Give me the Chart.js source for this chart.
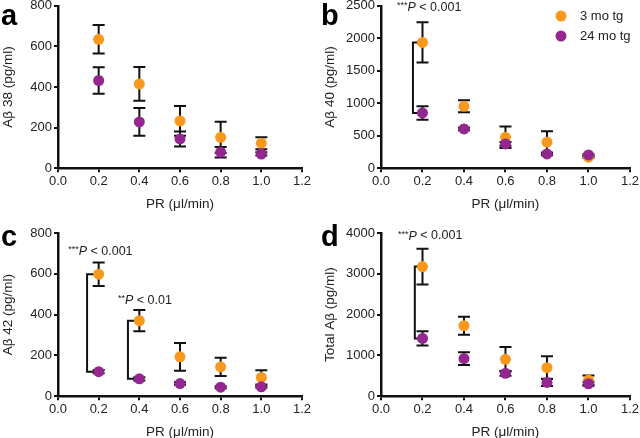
<!DOCTYPE html>
<html>
<head>
<meta charset="utf-8">
<script src="https://cdn.jsdelivr.net/npm/chart.js@4.4.1/dist/chart.umd.min.js"></script>
<style>
  body { margin: 0; background: #fff; }
  #figure { position: relative; width: 640px; height: 438px; overflow: hidden; background: #fff; }
  #figure canvas { position: absolute; }
</style>
</head>
<body>
<div id="figure">
  <canvas id="panelA"></canvas>
  <canvas id="panelB"></canvas>
  <canvas id="panelC"></canvas>
  <canvas id="panelD"></canvas>
</div>
<script>
// Données (moyenne ± SEM)
const flowRates = [0.2, 0.4, 0.6, 0.8, 1.0];
const groupLabels = ['3 mo tg', '24 mo tg'];
const xTickValues = [0.0, 0.2, 0.4, 0.6, 0.8, 1.0, 1.2];

// a - Aβ 38
const ab38Young = [635, 415, 233, 152, 123];
const ab38YoungSem = [70, 83, 73, 77, 30];
const ab38Old = [432, 228, 144, 79, 70];
const ab38OldSem = [65, 68, 37, 26, 8];
const ab38Ticks = [0, 200, 400, 600, 800];

// b - Aβ 40
const ab40Young = [1936, 953, 476, 400, 169];
const ab40YoungSem = [310, 92, 165, 170, 10];
const ab40Old = [850, 604, 374, 220, 205];
const ab40OldSem = [105, 20, 30, 20, 10];
const ab40Ticks = [0, 500, 1000, 1500, 2000, 2500];

// c - Aβ 42
const ab42Young = [598, 370, 193, 144, 92];
const ab42YoungSem = [58, 52, 68, 45, 35];
const ab42Old = [120, 85, 62, 44, 46];
const ab42OldSem = [8, 8, 6, 5, 5];
const ab42Ticks = [0, 200, 400, 600, 800];

// d - Aβ total
const abTotalYoung = [3177, 1728, 905, 700, 395];
const abTotalYoungSem = [440, 222, 300, 280, 115];
const abTotalOld = [1416, 922, 560, 337, 305];
const abTotalOldSem = [175, 155, 60, 90, 50];
const abTotalTicks = [0, 1000, 2000, 3000, 4000];

const ORANGE = '#F8981D';
const PURPLE = '#93278F';
const FONT = '"Liberation Sans", Arial, Helvetica, sans-serif';

Chart.defaults.font.family = FONT;
Chart.defaults.color = '#222';

function toPoints(values) {
    return values.map((v, i) => ({ x: flowRates[i], y: v }));
}

// Plugin : barres d'erreur, crochets, annotations, légende, lettre du panneau
const figureExtras = {
    id: 'figureExtras',
    beforeDatasetsDraw(chart, args, opts) {
        const ctx = chart.ctx;
        const xs = chart.scales.x;
        const ys = chart.scales.y;
        ctx.save();
        ctx.strokeStyle = '#111';
        ctx.lineWidth = 2;
        chart.data.datasets.forEach(ds => {
            ds.data.forEach((pt, i) => {
                const err = ds.sem[i];
                if (!err) return;
                const px = xs.getPixelForValue(pt.x);
                const top = ys.getPixelForValue(pt.y + err);
                const bot = ys.getPixelForValue(Math.max(pt.y - err, 0));
                ctx.beginPath();
                ctx.moveTo(px, top); ctx.lineTo(px, bot);
                ctx.moveTo(px - 6, top); ctx.lineTo(px + 6, top);
                ctx.moveTo(px - 6, bot); ctx.lineTo(px + 6, bot);
                ctx.stroke();
            });
        });
        (opts.brackets || []).forEach(b => {
            const bx = xs.getPixelForValue(b.x);
            const ex = xs.getPixelForValue(b.armTo);
            const y1 = ys.getPixelForValue(b.from);
            const y2 = ys.getPixelForValue(b.to);
            ctx.beginPath();
            ctx.moveTo(ex, y1); ctx.lineTo(bx, y1);
            ctx.lineTo(bx, y2); ctx.lineTo(ex, y2);
            ctx.stroke();
        });
        ctx.restore();
    },
    afterDraw(chart, args, opts) {
        const ctx = chart.ctx;
        const xs = chart.scales.x;
        const ys = chart.scales.y;
        ctx.save();
        // Lettre du panneau
        ctx.fillStyle = '#000';
        ctx.font = 'bold 29px ' + FONT;
        ctx.textBaseline = 'alphabetic';
        ctx.fillText(opts.letter, 1, opts.letterY);

        // Annotations de significativité
        (opts.notes || []).forEach(n => {
            let px = xs.getPixelForValue(n.x);
            const py = ys.getPixelForValue(n.y);
            ctx.fillStyle = '#222';
            ctx.textBaseline = 'middle';
            ctx.font = '9px ' + FONT;
            ctx.fillText(n.stars, px, py - 2);
            px += ctx.measureText(n.stars).width;
            ctx.font = 'italic 12.5px ' + FONT;
            ctx.fillText('P', px, py);
            px += ctx.measureText('P').width;
            ctx.font = '12.5px ' + FONT;
            ctx.fillText(n.text, px, py);
        });

        // Légende
        if (opts.legend) {
            const lg = opts.legend;
            chart.data.datasets.slice().sort((a, b) => a.legendIndex - b.legendIndex).forEach((ds, i) => {
                const cy = lg.y + i * lg.gap;
                ctx.fillStyle = ds.backgroundColor;
                ctx.beginPath();
                ctx.arc(lg.x, cy, 5.5, 0, Math.PI * 2);
                ctx.fill();
                ctx.fillStyle = '#222';
                ctx.font = '13px ' + FONT;
                ctx.textBaseline = 'middle';
                ctx.fillText(ds.label, lg.x + 19, cy + 0.5);
            });
        }
        ctx.restore();
    }
};

function makePanel(cfg) {
    const canvas = document.getElementById(cfg.id);
    canvas.width = 320;
    canvas.height = cfg.height;
    canvas.style.left = cfg.left + 'px';
    canvas.style.top = cfg.top + 'px';

    new Chart(canvas.getContext('2d'), {
        type: 'scatter',
        data: {
            datasets: [
                {
                    label: groupLabels[1],
                    legendIndex: 1,
                    data: toPoints(cfg.old),
                    sem: cfg.oldSem,
                    backgroundColor: PURPLE,
                    pointRadius: 5.5,
                    borderWidth: 0
                },
                {
                    label: groupLabels[0],
                    legendIndex: 0,
                    data: toPoints(cfg.young),
                    sem: cfg.youngSem,
                    backgroundColor: ORANGE,
                    pointRadius: 5.5,
                    borderWidth: 0
                }
            ]
        },
        options: {
            responsive: false,
            animation: false,
            devicePixelRatio: 1,
            layout: { padding: { left: 0, top: cfg.padTop, right: cfg.padRight, bottom: cfg.padBottom } },
            scales: {
                x: {
                    type: 'linear',
                    min: 0,
                    max: 1.2,
                    afterBuildTicks: s => { s.ticks = xTickValues.map(v => ({ value: v })); },
                    ticks: {
                        callback: v => Number(v).toFixed(1),
                        font: { size: 13 },
                        padding: 1,
                        maxRotation: 0,
                        autoSkip: false
                    },
                    grid: { display: true, drawOnChartArea: false, drawTicks: true, tickLength: 4, color: '#111', lineWidth: 2 },
                    border: { display: true, color: '#111', width: 2.5 },
                    title: { display: true, text: 'PR (μl/min)', font: { size: 13.5 }, padding: { top: 6, bottom: 0 } }
                },
                y: {
                    type: 'linear',
                    min: 0,
                    max: cfg.yTicks[cfg.yTicks.length - 1],
                    afterBuildTicks: s => { s.ticks = cfg.yTicks.map(v => ({ value: v })); },
                    afterFit: s => { s.width = cfg.axisX; },
                    ticks: { font: { size: 13 }, padding: 2, callback: v => String(v) },
                    grid: { display: true, drawOnChartArea: false, drawTicks: true, tickLength: 4, color: '#111', lineWidth: 2 },
                    border: { display: true, color: '#111', width: 2.5 },
                    title: { display: true, text: cfg.yTitle, font: { size: 13.5 }, padding: { top: cfg.yTitlePad, bottom: 0 } }
                }
            },
            plugins: {
                legend: { display: false },
                tooltip: { enabled: false },
                figureExtras: {
                    letter: cfg.letter,
                    letterY: cfg.letterY,
                    brackets: cfg.brackets,
                    notes: cfg.notes,
                    legend: cfg.legend
                }
            }
        },
        plugins: [figureExtras]
    });
}

makePanel({
    id: 'panelA', left: 0, top: -4, height: 223,
    padTop: 9, padRight: 18, padBottom: 7, axisX: 58, yTitlePad: 0,
    yTitle: 'Aβ 38 (pg/ml)', yTicks: ab38Ticks,
    young: ab38Young, youngSem: ab38YoungSem, old: ab38Old, oldSem: ab38OldSem,
    letter: 'a', letterY: 29
});

makePanel({
    id: 'panelB', left: 320, top: -4, height: 223,
    padTop: 9, padRight: 9, padBottom: 7, axisX: 61, yTitlePad: 2,
    yTitle: 'Aβ 40 (pg/ml)', yTicks: ab40Ticks,
    young: ab40Young, youngSem: ab40YoungSem, old: ab40Old, oldSem: ab40OldSem,
    letter: 'b', letterY: 29,
    brackets: [{ x: 0.154, armTo: 0.19, from: ab40Young[0], to: ab40Old[0] }],
    notes: [{ x: 0.077, y: 2470, stars: '***', text: ' < 0.001' }],
    legend: { x: 241, y: 20, gap: 20 }
});

makePanel({
    id: 'panelC', left: 0, top: 219, height: 221,
    padTop: 14, padRight: 18, padBottom: 0, axisX: 58, yTitlePad: 0,
    yTitle: 'Aβ 42 (pg/ml)', yTicks: ab42Ticks,
    young: ab42Young, youngSem: ab42YoungSem, old: ab42Old, oldSem: ab42OldSem,
    letter: 'c', letterY: 27,
    brackets: [
        { x: 0.143, armTo: 0.19, from: ab42Young[0], to: ab42Old[0] },
        { x: 0.344, armTo: 0.39, from: ab42Young[1], to: ab42Old[1] }
    ],
    notes: [
        { x: 0.05, y: 707, stars: '***', text: ' < 0.001' },
        { x: 0.295, y: 471, stars: '**', text: ' < 0.01' }
    ]
});

makePanel({
    id: 'panelD', left: 320, top: 219, height: 221,
    padTop: 14, padRight: 9, padBottom: 0, axisX: 61, yTitlePad: 2,
    yTitle: 'Total Aβ (pg/ml)', yTicks: abTotalTicks,
    young: abTotalYoung, youngSem: abTotalYoungSem, old: abTotalOld, oldSem: abTotalOldSem,
    letter: 'd', letterY: 27,
    brackets: [{ x: 0.163, armTo: 0.19, from: abTotalYoung[0], to: abTotalOld[0] }],
    notes: [{ x: 0.082, y: 3926, stars: '***', text: ' < 0.001' }]
});
</script>
</body>
</html>
